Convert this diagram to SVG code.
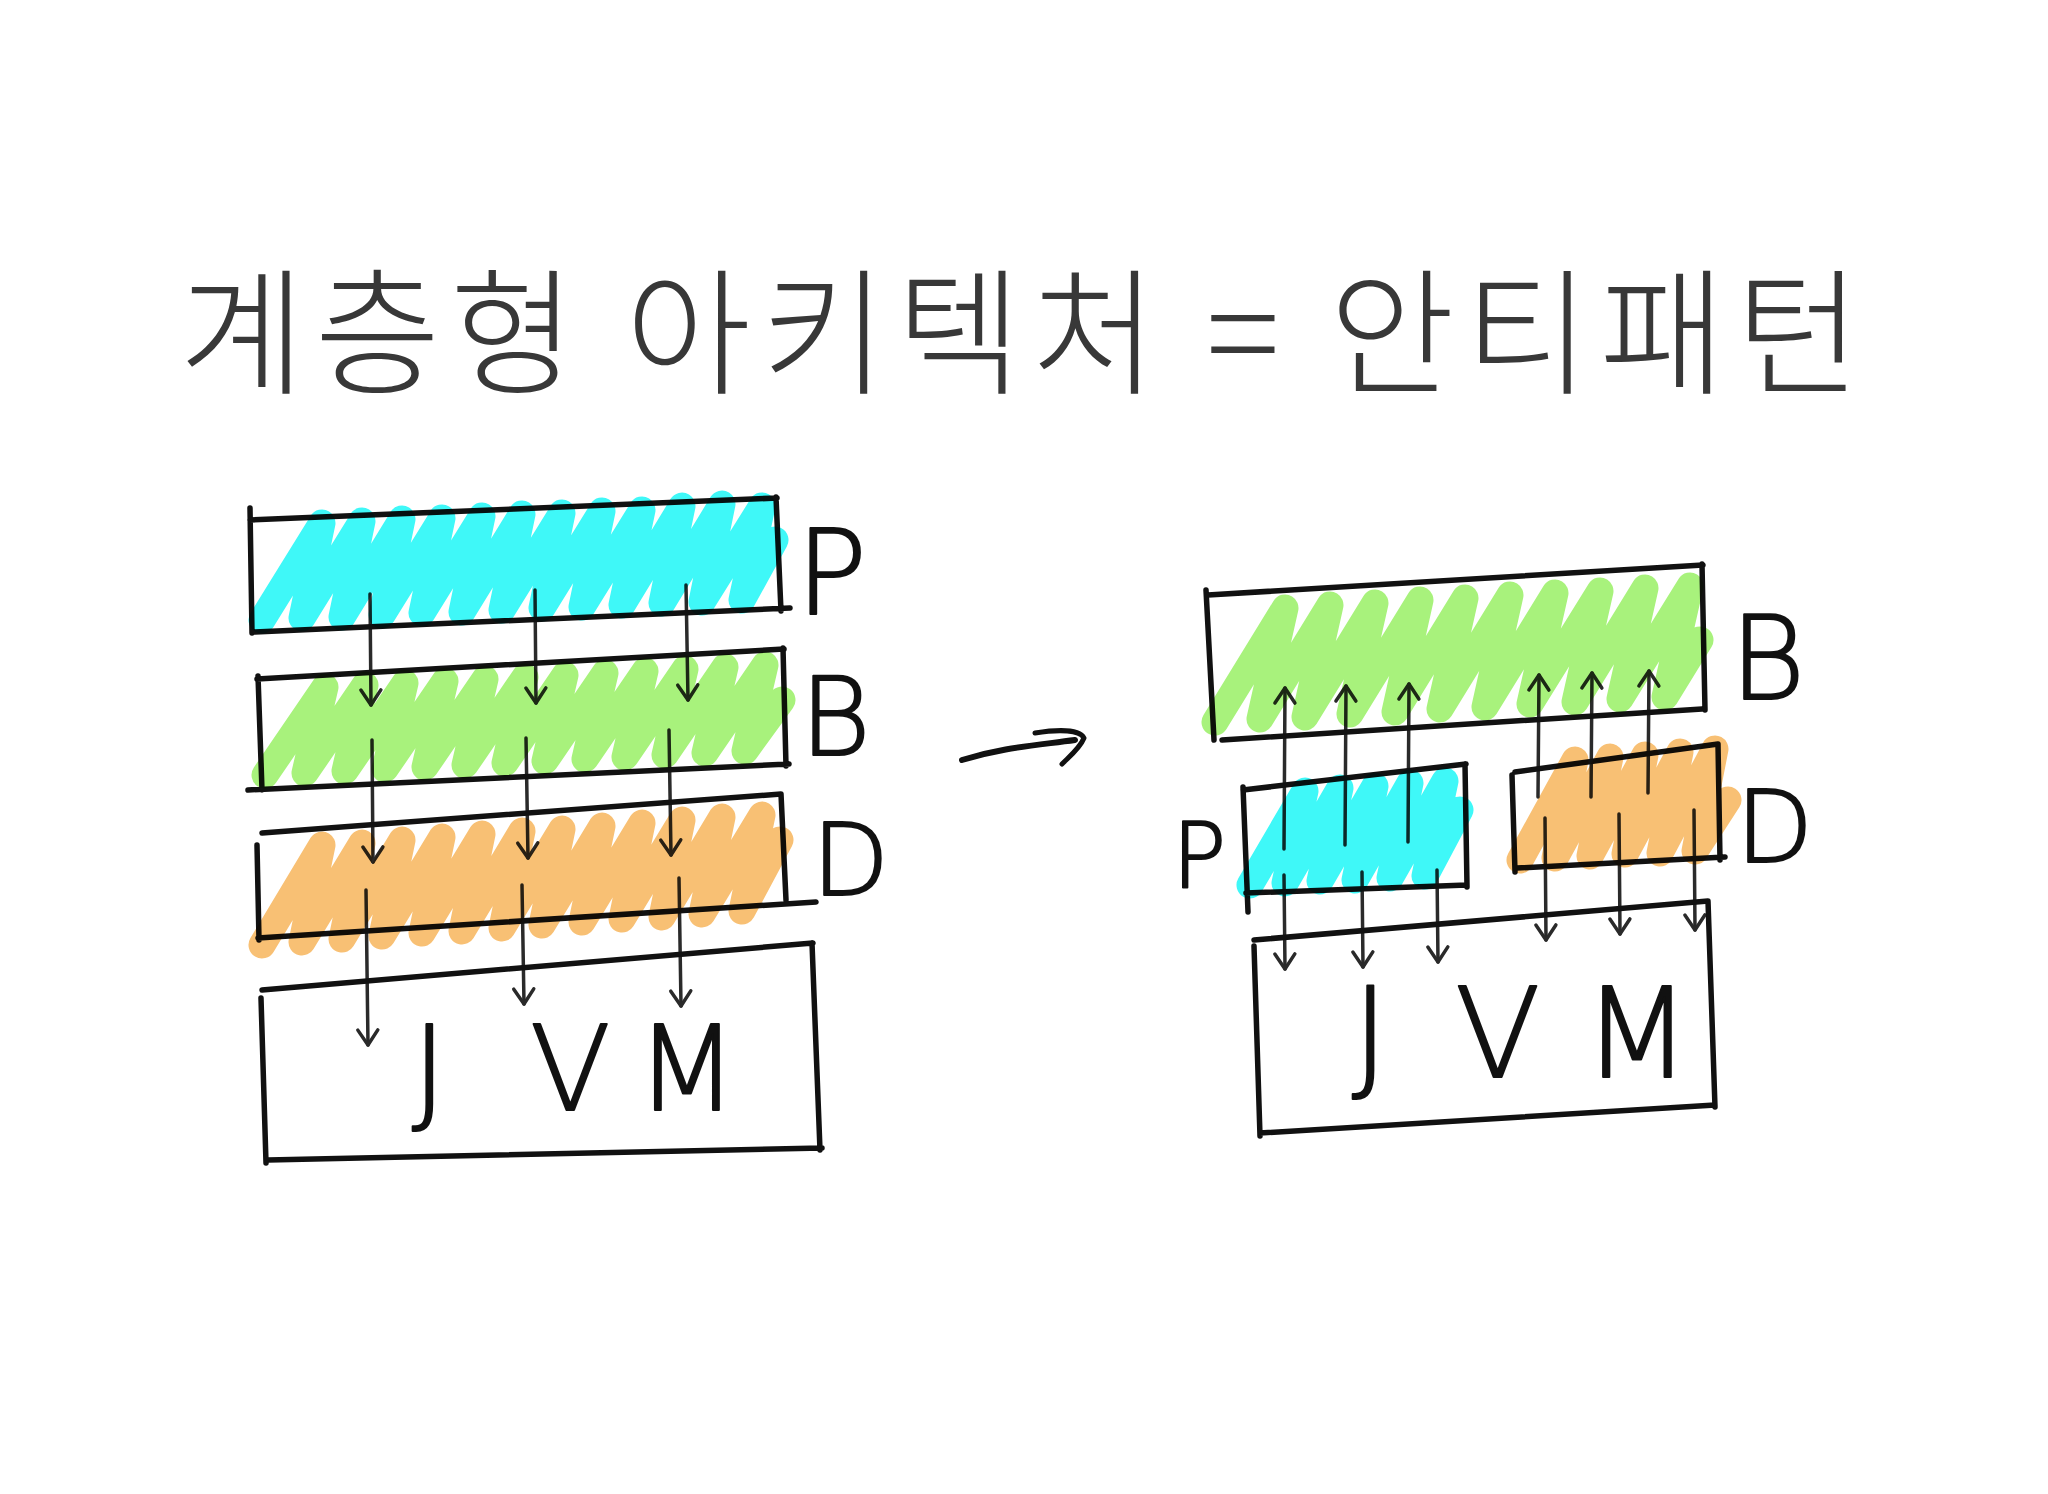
<svg xmlns="http://www.w3.org/2000/svg" width="2048" height="1494" viewBox="0 0 2048 1494">
<style>
.box{fill:none;stroke:#111;stroke-width:5.5;stroke-linecap:round;stroke-linejoin:round}
.scr{fill:none;stroke-width:27;stroke-linecap:round;stroke-linejoin:round;mix-blend-mode:multiply}
.cy{stroke:#3ff8f8}
.gr{stroke:#a8f27c}
.or{stroke:#f8c074}
.lbl{font-family:"DejaVu Sans","Liberation Sans",sans-serif;font-weight:200;fill:#111;stroke:#111;stroke-width:2;stroke-linejoin:round}
.arr{fill:none;stroke:#2a2a2a;stroke-width:3.5;stroke-linecap:round}
.title{font-family:"Noto Sans CJK KR","Noto Sans",sans-serif;font-weight:300;fill:#383838}
</style>
<defs>
<marker id="ah" viewBox="-18 -13 21 26" markerWidth="21" markerHeight="26" refX="0" refY="0" orient="auto" markerUnits="userSpaceOnUse">
<path d="M-15,-10 L0,0 L-15,10" fill="none" stroke="#2a2a2a" stroke-width="3.5" stroke-linecap="round" stroke-linejoin="round"/>
</marker>
</defs>
<rect width="2048" height="1494" fill="#fff"/>

<g id="title">
<text class="title" x="1020" y="384" text-anchor="middle" font-size="137" textLength="1682" lengthAdjust="spacing">계층형 아키텍처 = 안티패턴</text>
</g>

<g id="connectors">
<!-- left: P to B -->
<path class="arr" marker-end="url(#ah)" d="M370,594 L371,705"/>
<path class="arr" marker-end="url(#ah)" d="M535,590 L536,703"/>
<path class="arr" marker-end="url(#ah)" d="M686,585 L688,700"/>
<!-- left: B to D -->
<path class="arr" marker-end="url(#ah)" d="M372,740 L373,862"/>
<path class="arr" marker-end="url(#ah)" d="M526,738 L528,858"/>
<path class="arr" marker-end="url(#ah)" d="M669,730 L671,855"/>
<!-- left: D to JVM -->
<path class="arr" marker-end="url(#ah)" d="M366,890 L368,1045"/>
<path class="arr" marker-end="url(#ah)" d="M522,885 L524,1004"/>
<path class="arr" marker-end="url(#ah)" d="M679,878 L681,1006"/>
<!-- middle transition arrow -->
<path d="M962,760 C1000,748 1030,746 1075,740" fill="none" stroke="#111" stroke-width="6" stroke-linecap="round"/>
<path d="M1035,733 C1060,729 1080,730 1084,738 C1080,748 1070,756 1062,764" fill="none" stroke="#111" stroke-width="5" stroke-linecap="round" stroke-linejoin="round"/>
<!-- right: P up to B -->
<path class="arr" marker-end="url(#ah)" d="M1284,849 L1285,688"/>
<path class="arr" marker-end="url(#ah)" d="M1345,845 L1346,686"/>
<path class="arr" marker-end="url(#ah)" d="M1408,842 L1409,684"/>
<!-- right: D up to B -->
<path class="arr" marker-end="url(#ah)" d="M1538,797 L1539,675"/>
<path class="arr" marker-end="url(#ah)" d="M1591,797 L1592,673"/>
<path class="arr" marker-end="url(#ah)" d="M1648,793 L1649,671"/>
<!-- right: P down to JVM -->
<path class="arr" marker-end="url(#ah)" d="M1284,875 L1285,969"/>
<path class="arr" marker-end="url(#ah)" d="M1362,872 L1363,967"/>
<path class="arr" marker-end="url(#ah)" d="M1437,870 L1438,962"/>
<!-- right: D down to JVM -->
<path class="arr" marker-end="url(#ah)" d="M1545,818 L1546,940"/>
<path class="arr" marker-end="url(#ah)" d="M1619,814 L1620,934"/>
<path class="arr" marker-end="url(#ah)" d="M1694,810 L1695,930"/>
</g>

<g id="left-P">
<path class="box" d="M250,508 L252,633 M250,520 L777,498 M776,497 L781,611 M790,608 L255,632"/>
<polyline class="scr cy" points="262,620 322,523 302,618 362,521 342,617 402,519 382,615 442,518 422,613 482,516 462,612 522,514 502,610 562,513 542,608 602,511 582,607 642,510 622,605 682,506 662,603 722,504 702,602 762,506 742,600 775,540"/>
<text class="lbl" x="796" y="614" font-size="118">P</text>
</g>

<g id="left-B">
<path class="box" d="M258,676 L262,790 M257,679 L784,649 M783,648 L786,766 M789,764 L248,790"/>
<polyline class="scr gr" points="265,775 325,687 305,773 365,685 345,771 405,683 385,769 445,681 425,767 485,679 465,765 525,677 505,763 565,675 545,761 605,673 585,759 645,671 625,757 685,669 665,755 725,667 705,753 765,665 745,751 782,700"/>
<text class="lbl" x="800" y="755" font-size="108">B</text>
</g>

<g id="left-D">
<path class="box" d="M257,845 L259,940 M262,833 L781,794 M781,794 L786,900 M816,902 L258,938"/>
<polyline class="scr or" points="262,945 322,845 302,942 362,843 342,939 402,840 382,936 442,837 422,933 482,834 462,931 522,831 502,928 562,829 542,925 602,826 582,922 642,823 622,919 682,820 662,917 722,817 702,914 762,815 742,911 780,840"/>
<text class="lbl" x="812" y="895" font-size="100">D</text>
</g>

<g id="left-JVM">
<path class="box" d="M261,998 L266,1163 M262,990 L813,943 M812,943 L820,1150 M822,1148 L268,1160"/>
<text class="lbl" font-size="118" y="1110"><tspan x="412">J</tspan><tspan x="530">V</tspan><tspan x="636">M</tspan></text>
</g>

<g id="right-B">
<path class="box" d="M1206,590 L1214,740 M1208,595 L1703,565 M1702,564 L1705,710 M1702,709 L1222,740"/>
<polyline class="scr gr" points="1215,722 1285,608 1260,719 1330,605 1305,717 1375,603 1350,714 1420,600 1395,712 1465,598 1440,709 1510,595 1485,707 1555,593 1530,704 1600,591 1575,702 1645,588 1620,699 1690,586 1665,697 1700,640"/>
<text class="lbl" x="1730" y="699" font-size="115">B</text>
</g>

<g id="right-P">
<path class="box" d="M1243,787 L1248,912 M1243,790 L1466,764 M1465,764 L1467,887 M1467,885 L1246,893"/>
<polyline class="scr cy" points="1250,885 1305,791 1285,883 1340,788 1320,881 1375,786 1355,880 1410,783 1390,878 1445,781 1425,876 1460,810"/>
<text class="lbl" x="1172" y="888" font-size="90">P</text>
</g>

<g id="right-D">
<path class="box" d="M1512,775 L1515,872 M1515,772 L1718,744 M1718,744 L1720,860 M1725,857 L1517,868"/>
<polyline class="scr or" points="1520,860 1575,760 1555,858 1610,757 1590,856 1645,755 1625,854 1680,752 1660,853 1715,749 1695,851 1728,800"/>
<text class="lbl" x="1736" y="862" font-size="100">D</text>
</g>

<g id="right-JVM">
<path class="box" d="M1254,946 L1260,1136 M1254,940 L1708,901 M1708,901 L1715,1107 M1715,1105 L1260,1133"/>
<text class="lbl" font-size="125" y="1077"><tspan x="1352">J</tspan><tspan x="1455">V</tspan><tspan x="1583">M</tspan></text>
</g>
</svg>
